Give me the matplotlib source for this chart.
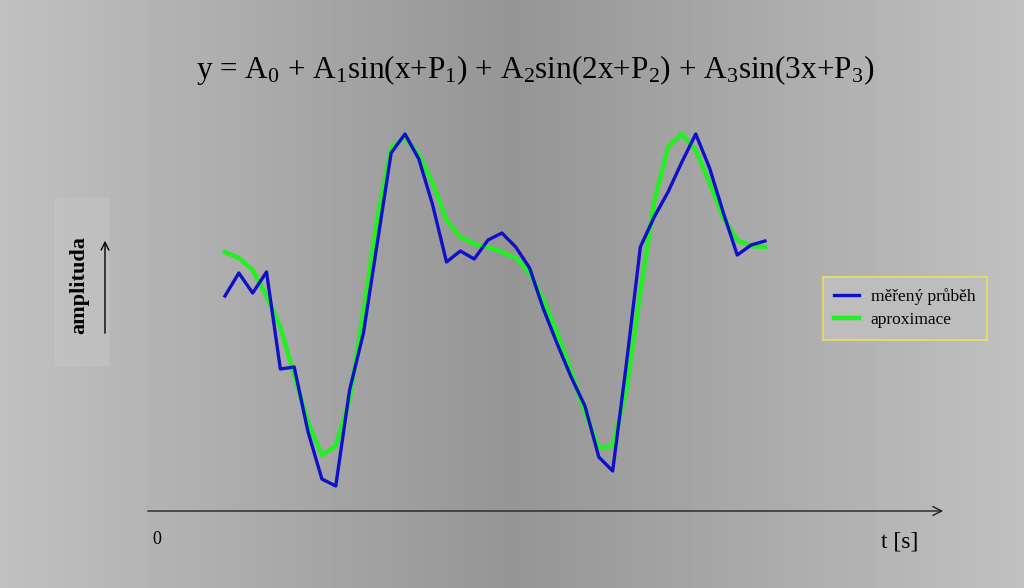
import numpy as np
import matplotlib.pyplot as plt
from matplotlib.patches import Rectangle

plt.rcParams['mathtext.fontset'] = 'custom'
plt.rcParams['mathtext.rm'] = 'Liberation Serif'
plt.rcParams['mathtext.it'] = 'Liberation Serif'

# samples (index) and amplitudes
t = np.arange(40)
measured = [0.04, 0.27, 0.07, 0.28, -0.69, -0.67, -1.32, -1.79, -1.86, -0.90,
            -0.33, 0.57, 1.47, 1.66, 1.41, 0.95, 0.38, 0.49, 0.41, 0.60,
            0.67, 0.53, 0.32, -0.09, -0.44, -0.77, -1.06, -1.57, -1.71, -0.63,
            0.53, 0.83, 1.08, 1.38, 1.66, 1.32, 0.87, 0.45, 0.55, 0.59]
approx = [0.48, 0.42, 0.30, 0.04, -0.27, -0.75, -1.22, -1.55, -1.46, -1.00,
          -0.12, 0.82, 1.52, 1.63, 1.45, 1.17, 0.80, 0.63, 0.56, 0.53,
          0.48, 0.42, 0.27, 0.00, -0.33, -0.72, -1.12, -1.48, -1.46, -0.90,
          0.08, 0.98, 1.53, 1.66, 1.50, 1.17, 0.82, 0.60, 0.54, 0.53]

title = r'y = A$_0$ + A$_1$sin(x+P$_1$) + A$_2$sin(2x+P$_2$) + A$_3$sin(3x+P$_3$)'

fig = plt.figure(figsize=(10.24, 5.88), dpi=100)

# background gradient (light edges, dark middle)
bg = fig.add_axes([0, 0, 1, 1], zorder=0)
gx = np.linspace(0, 1, 512)
shade = np.interp(gx, [0, 0.5, 1], [0.755, 0.585, 0.755])
bg.imshow(np.tile(shade, (2, 1)), cmap='gray', vmin=0, vmax=1,
          aspect='auto', extent=[0, 1, 0, 1])
bg.set_axis_off()

ax = fig.add_axes([0, 0, 1, 1], zorder=1)
ax.patch.set_alpha(0)
ax.set_xlim(-16.25, 57.71)
ax.set_ylim(-2.88, 3.0)
ax.set_axis_off()

ax.plot(t, approx, color='#22f022', lw=3.2, label='aproximace', zorder=2)
ax.plot(t, measured, color='#1010c8', lw=2.4, label='měřený průběh', zorder=3)

handles, labels = ax.get_legend_handles_labels()
leg = ax.legend(handles[::-1], labels[::-1], loc='upper left',
                bbox_to_anchor=(823 / 1024, 1 - 277 / 588),
                bbox_transform=fig.transFigure, borderaxespad=0,
                prop={'family': 'Liberation Serif', 'size': 12.5},
                frameon=True, fancybox=False, handlelength=1.4,
                borderpad=0.65, labelspacing=0.4, handletextpad=0.7)
leg.get_frame().set_edgecolor('#e8e060')
leg.get_frame().set_facecolor('#bdbdbd')
leg.get_frame().set_linewidth(1.2)
leg.get_frame().set_alpha(1)

fig.text(535 / 1024, 1 - 70 / 588, title, ha='center', va='center',
         fontsize=22.5, family='Liberation Serif')

# amplitude label with lighter box
fig.patches.append(Rectangle((55 / 1024, 1 - 365 / 588), 53 / 1024, 167 / 588,
                             transform=fig.transFigure, color='#c6c6c6',
                             alpha=0.5, zorder=0.5))
fig.text(79 / 1024, 1 - 285 / 588, 'amplituda', rotation=90, ha='center',
         va='center', fontsize=16, fontweight='bold', family='Liberation Serif')
ax.annotate('', xy=(105 / 1024, 1 - 238 / 588), xytext=(105 / 1024, 1 - 336 / 588),
            xycoords='figure fraction', textcoords='figure fraction',
            arrowprops=dict(arrowstyle='->', lw=1, color='black',
                            mutation_scale=14))

# time axis
ax.annotate('', xy=(946 / 1024, 1 - 511 / 588), xytext=(145 / 1024, 1 - 511 / 588),
            xycoords='figure fraction', textcoords='figure fraction',
            arrowprops=dict(arrowstyle='->', lw=1, color='#202020',
                            mutation_scale=16))
fig.text(157 / 1024, 1 - 539 / 588, '0', ha='center', va='center',
         fontsize=13, family='Liberation Serif')
fig.text(900 / 1024, 1 - 542 / 588, 't [s]', ha='center', va='center',
         fontsize=17, family='Liberation Serif')

fig.savefig('out.png', dpi=100)
